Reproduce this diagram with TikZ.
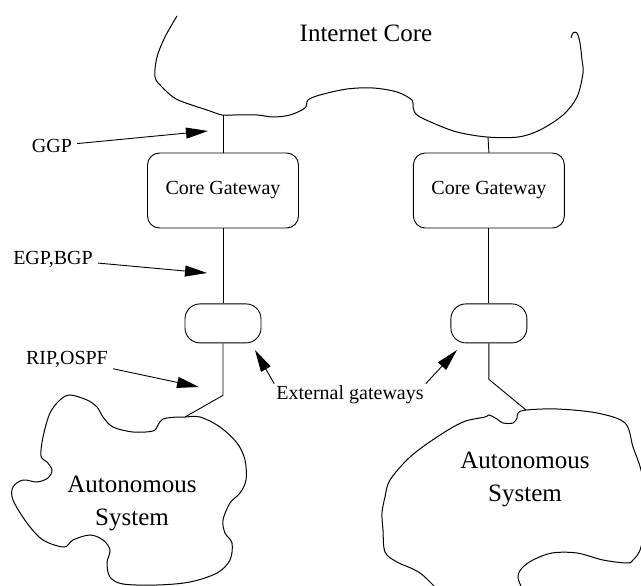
\documentclass[tikz,border=0pt]{standalone}
\usepackage{fontspec}
\setmainfont{Liberation Serif}
\usepackage{tikz}
\usetikzlibrary{arrows.meta,positioning}
\tikzset{
  gw/.style={rounded corners=12pt, draw, line width=0.9pt, align=center,
             font=\fontsize{20}{24}\selectfont, minimum width=151pt, minimum height=75pt, inner sep=0pt},
  egw/.style={rounded corners=15pt, draw, line width=0.9pt,
              minimum width=76pt, minimum height=39pt, inner sep=0pt},
  link/.style={line width=0.9pt},
  ptr/.style={-{Triangle[length=22pt,width=11pt]}, line width=0.9pt},
  lbl/.style={font=\fontsize{20}{24}\selectfont, inner sep=5pt},
  big/.style={font=\fontsize{25}{33}\selectfont, align=center, inner sep=0pt},
  rim/.style={line width=1pt},
}

\begin{document}
\begin{tikzpicture}[x=1pt, y=-1pt]
  \clip (0,0) rectangle (641,586);
  % internet core outline
  \draw[rim] plot[smooth, tension=0.55] coordinates {(177,16) (165,37) (157,57) (155,77) (162,87)
    (173,97) (183,102) (207,110) (222,115) (233,115) (257,115) (273,117) (290,115) (305,108)
    (308,100) (320,95) (347,89) (373,88) (397,92) (412,100) (413,107) (417,115) (433,123)
    (457,132) (487,137) (518,137) (540,130) (563,115) (577,97) (583,73) (582,60) (580,43)
    (577,33) (573,33) (571,38)};
  \node[font=\fontsize{25}{30}\selectfont] (inet) at (366,33) {Internet Core};
  \coordinate (coreL) at (223,115);
  \coordinate (coreR) at (488,137);

  % gateways
  \node[gw] (cgL) at (223,190.5) {Core Gateway};
  \node[gw, right=114pt of cgL] (cgR) {Core Gateway};
  \node[egw, below=75pt of cgL] (egL) {};
  \node[egw, below=75pt of cgR] (egR) {};

  % autonomous systems
  \draw[rim] plot[smooth cycle, tension=0.55] coordinates {(185,417) (200,417) (220,427) (237,443)
    (245,460) (246,480) (240,493) (230,503) (223,520) (225,533) (232,543) (230,560) (217,573)
    (190,582) (157,585) (123,584) (110,577) (107,563) (110,550) (103,540) (90,535) (73,540)
    (64,547) (43,540) (27,523) (13,500) (13,487) (23,480) (37,482) (48,478) (52,470) (47,462)
    (41,456) (43,437) (50,413) (60,400) (70,395) (87,400) (97,407) (103,417) (113,427)
    (133,432) (153,431) (158,425) (163,419) (177,417)};
  \draw[rim] plot[smooth cycle, tension=0.55] coordinates {(526,410) (557,409) (597,413) (625,423)
    (633,447) (641,470) (648,505) (641,547) (633,560) (627,563) (603,560) (577,553) (552,553)
    (533,560) (522,568) (518,577) (519,600) (455,600) (420,573) (397,562) (385,552) (383,530)
    (382,513) (385,497) (390,480) (410,457) (437,437) (463,422) (485,417) (489,415) (497,419)
    (503,423) (513,423) (517,418) (518,413)};
  \coordinate (asL) at (185,417);
  \coordinate (asR) at (526,410);
  \node[big] (sysL) at (132,503) {Autonomous\\System};
  \node[big] (sysR) at (525,479) {Autonomous\\System};

  % links
  \draw[link] (coreL) -- (cgL.north);
  \draw[link] (coreR) -- (cgR.north);
  \draw[link] (cgL) -- (egL);
  \draw[link] (cgR) -- (egR);
  \draw[link] (egL.south) -- ++(0,52) -- (asL);
  \draw[link] (egR.south) -- ++(0,36) -- (asR);

  % protocol labels
  \node[lbl] (ggp) at (52,146) {GGP};
  \node[lbl] (egp) at (53,259) {EGP,BGP};
  \node[lbl] (rip) at (67,359) {RIP,OSPF};
  \node[lbl, inner sep=2pt] (ext) at (350,395) {External gateways};
  \coordinate (ggpTip) at (208,131);
  \coordinate (egpTip) at (207,273);
  \coordinate (ripTip) at (199,387);
  \coordinate (extTipL) at (255,350);
  \coordinate (extTipR) at (457,350);
  \draw[ptr] (ggp) -- (ggpTip);
  \draw[ptr] (egp) -- (egpTip);
  \draw[ptr] (rip) -- (ripTip);
  \draw[ptr] (ext.north west) -- (extTipL);
  \draw[ptr] (ext.north east) -- (extTipR);
\end{tikzpicture}
\end{document}
